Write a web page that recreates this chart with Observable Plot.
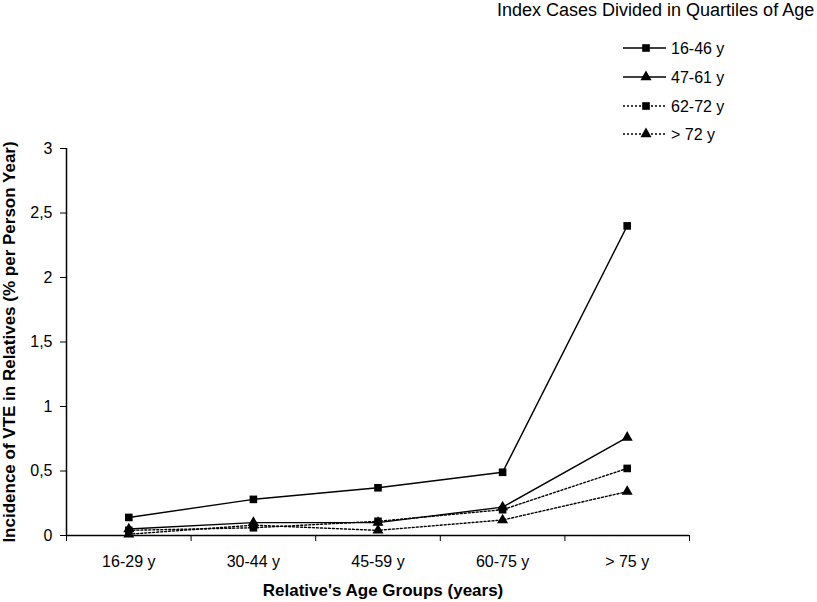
<!DOCTYPE html>
<html>
<head>
<meta charset="utf-8">
<script src="https://cdn.jsdelivr.net/npm/d3@7"></script>
<script src="https://cdn.jsdelivr.net/npm/@observablehq/plot@0.6"></script>
<style>
  body { margin: 0; background: #fff; font-family: "Liberation Sans", Arial, sans-serif; }
  #wrap { position: relative; width: 817px; height: 602px; }
  #legend { position: absolute; left: 0; top: 0; overflow: visible; }
</style>
</head>
<body>
<div id="wrap">
  <div id="chart"></div>
  <svg id="legend" width="817" height="160"></svg>
</div>
<script>
const ageGroups = ["16-29 y", "30-44 y", "45-59 y", "60-75 y", "> 75 y"];
const seriesNames = ["16-46 y", "47-61 y", "62-72 y", "> 72 y"];
const q1 = [0.14, 0.28, 0.37, 0.49, 2.40];
const q2 = [0.05, 0.10, 0.10, 0.22, 0.76];
const q3 = [0.04, 0.06, 0.11, 0.20, 0.52];
const q4 = [0.01, 0.08, 0.04, 0.12, 0.34];
const yTicks = [0, 0.5, 1, 1.5, 2, 2.5, 3];
const legendTitle = "Index Cases Divided in Quartiles of Age";
const seriesSymbols = ["square", "triangle", "square", "triangle"];
const seriesDash = [null, null, "2,2", "2,2"];

const allSeries = [q1, q2, q3, q4];
const rows = [];
allSeries.forEach((vals, s) => vals.forEach((v, i) => rows.push({series: seriesNames[s], s, i: i + 0.5, v})));

const marks = [];
// axes
marks.push(Plot.axisY({ticks: yTicks, tickSize: 6, tickPadding: 8, fontSize: 16,
  tickFormat: d => String(d).replace(".", ","), label: null}));
marks.push(Plot.axisX({ticks: [0, 1, 2, 3, 4, 5], tickSize: 6, tickFormat: () => "", label: null}));
marks.push(Plot.axisX({ticks: ageGroups.map((_, i) => i + 0.5), tickSize: 0, tickPadding: 20, fontSize: 16,
  tickFormat: d => ageGroups[Math.floor(d)], label: null}));
marks.push(Plot.ruleY([0], {stroke: "#000", strokeWidth: 1.5}));
marks.push(Plot.ruleX([0], {stroke: "#000", strokeWidth: 1.5}));
// series
seriesNames.forEach((name, s) => {
  const d = rows.filter(r => r.s === s);
  marks.push(Plot.line(d, {x: "i", y: "v", stroke: "#000", strokeWidth: 1.4,
    strokeDasharray: seriesDash[s] || undefined}));
});
seriesNames.forEach((name, s) => {
  const d = rows.filter(r => r.s === s);
  marks.push(Plot.dot(d, {x: "i", y: "v", symbol: seriesSymbols[s], fill: "#000", stroke: "none",
    r: seriesSymbols[s] === "square" ? 4.3 : 4.1}));
});
// titles
marks.push(Plot.text(["Incidence of VTE in Relatives (% per Person Year)"], {frameAnchor: "left", rotate: -90,
  dx: -57, textAnchor: "middle", lineAnchor: "middle", fontWeight: "bold", fontSize: 17}));
marks.push(Plot.text(["Relative's Age Groups (years)"], {frameAnchor: "bottom", dy: 55, dx: 5,
  textAnchor: "middle", fontWeight: "bold", fontSize: 17, lineAnchor: "middle"}));

const chart = Plot.plot({
  width: 817, height: 602,
  marginLeft: 66, marginRight: 128, marginTop: 148, marginBottom: 67,
  style: {fontFamily: "'Liberation Sans', Arial, sans-serif", color: "#000", background: "#fff", overflow: "visible"},
  x: {type: "linear", domain: [0, 5]},
  y: {type: "linear", domain: [0, 3]},
  marks
});
document.getElementById("chart").appendChild(chart);

// legend
const lg = d3.select("#legend");
lg.append("text").attr("x", 497).attr("y", 16).attr("font-size", 18)
  .attr("font-family", "'Liberation Sans', Arial, sans-serif").text(legendTitle);
const rowsY = [48, 77, 106, 134];
seriesNames.forEach((name, s) => {
  const y = rowsY[s];
  lg.append("line").attr("x1", 623).attr("x2", 666).attr("y1", y).attr("y2", y)
    .attr("stroke", "#000").attr("stroke-width", 1.4)
    .attr("stroke-dasharray", seriesDash[s] || null);
  const sym = seriesSymbols[s] === "square" ? d3.symbolSquare : d3.symbolTriangle;
  const r = seriesSymbols[s] === "square" ? 4.3 : 4.1;
  lg.append("path").attr("d", d3.symbol(sym, Math.PI * r * r)())
    .attr("transform", `translate(646,${y})`).attr("fill", "#000");
  lg.append("text").attr("x", 671).attr("y", y).attr("dy", "0.35em")
    .attr("font-size", 16).attr("font-family", "'Liberation Sans', Arial, sans-serif").text(name);
});
</script>
</body>
</html>
